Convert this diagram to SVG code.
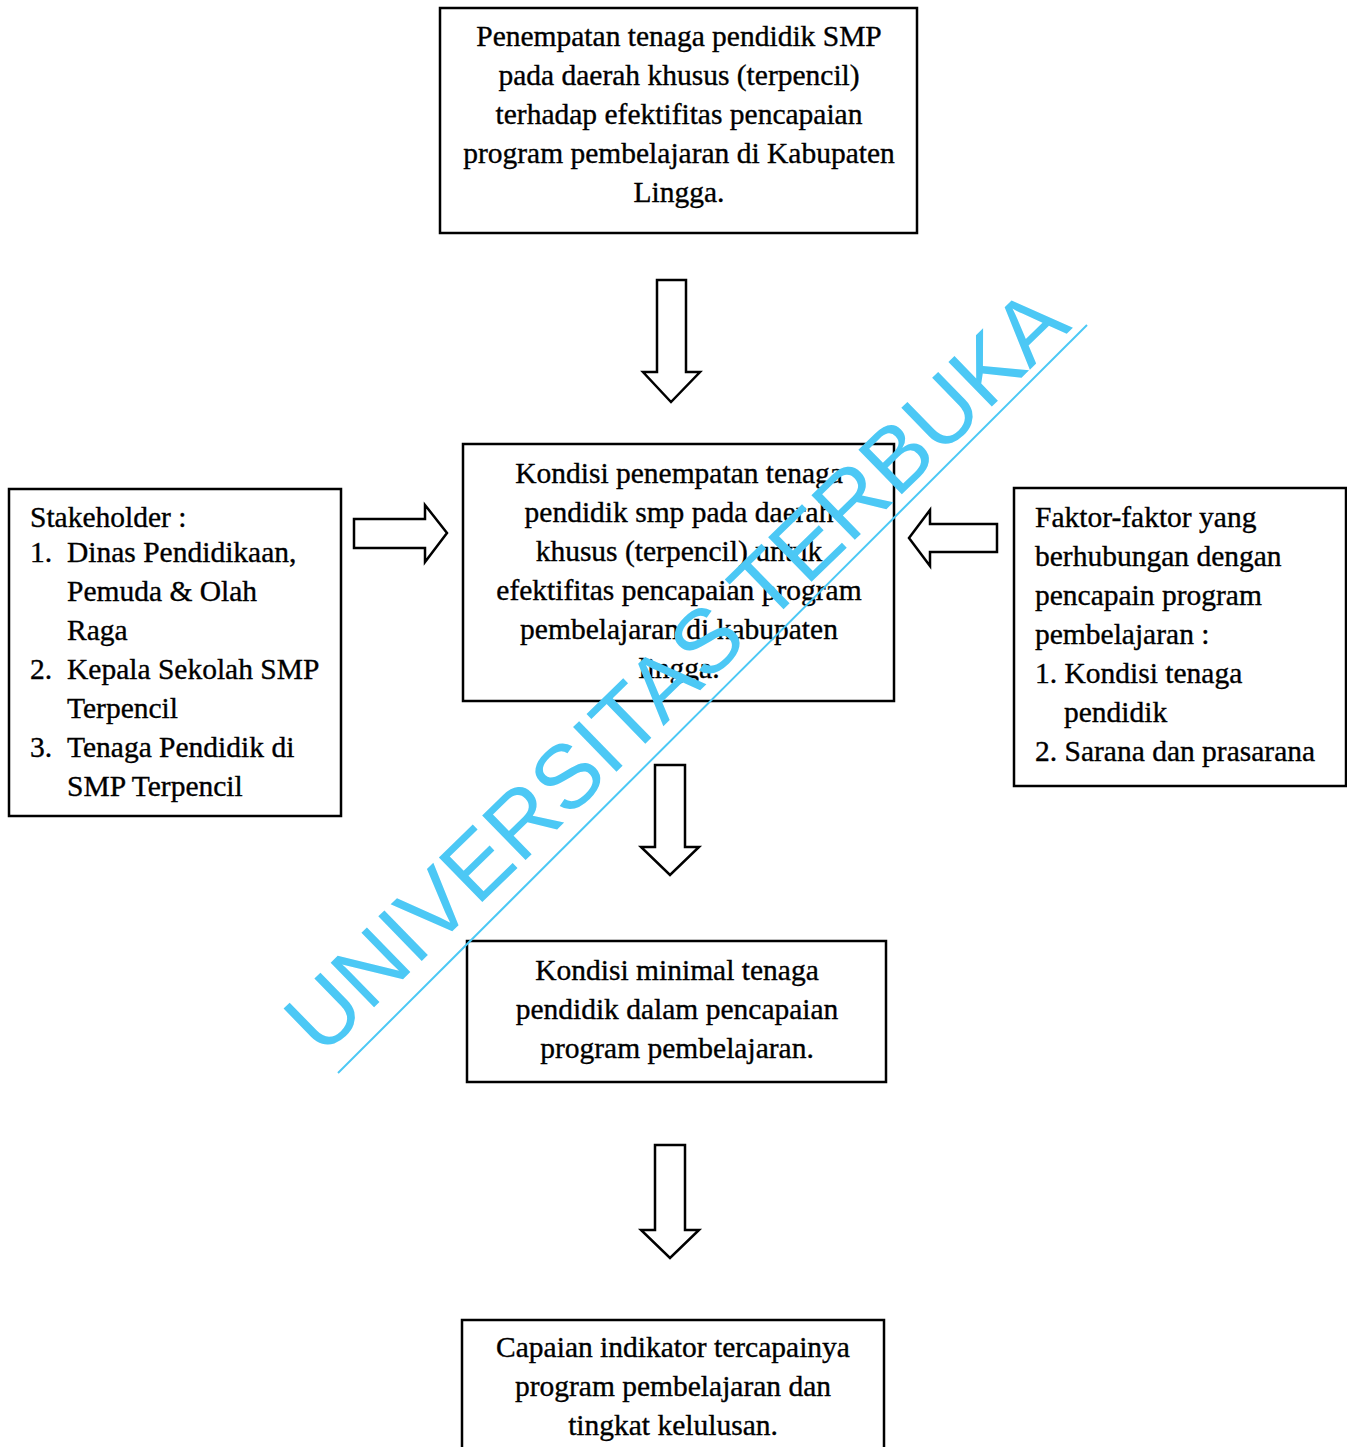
<svg xmlns="http://www.w3.org/2000/svg" width="1347" height="1447" viewBox="0 0 1347 1447">
<style>
.box{fill:#fff;stroke:#000;stroke-width:2.5}
.arr{fill:#fff;stroke:#000;stroke-width:2.5;stroke-linejoin:miter}
.t{font-family:"Liberation Serif","Times New Roman",serif;font-size:29.5px;fill:#000;stroke:#000;stroke-width:0.35}
.c{text-anchor:middle}
.wm{font-family:"Liberation Sans",Arial,sans-serif;font-size:90.5px;fill:#4cc8f5}
</style>
<rect width="1347" height="1447" fill="#fff"/>
<g id="connectors">
<path class="arr" d="M657,280 H686 V372 H700 L671,402 L643,372 H657 Z"/>
<path class="arr" d="M354,519 H425 V505 L447,533 L425,562 V548 H354 Z"/>
<path class="arr" d="M997,524 H930 V510 L909,538 L930,566 V552 H997 Z"/>
<path class="arr" d="M655,765 H685 V847 H699 L670,875 L641,847 H655 Z"/>
<path class="arr" d="M655,1145 H685 V1230 H699 L670,1258 L641,1230 H655 Z"/>
</g>
<g id="node-top">
<rect class="box" x="440" y="8" width="477" height="225"/>
<text class="t c"><tspan x="679" y="46">Penempatan tenaga pendidik SMP</tspan><tspan x="679" y="85">pada daerah khusus (terpencil)</tspan><tspan x="679" y="124">terhadap efektifitas pencapaian</tspan><tspan x="679" y="163">program pembelajaran di Kabupaten</tspan><tspan x="679" y="202">Lingga.</tspan></text>
</g>
<g id="node-center">
<rect class="box" x="463" y="444" width="431" height="257"/>
<text class="t c"><tspan x="679" y="483">Kondisi penempatan tenaga</tspan><tspan x="679" y="522">pendidik smp pada daerah</tspan><tspan x="679" y="561">khusus (terpencil) untuk</tspan><tspan x="679" y="600">efektifitas pencapaian program</tspan><tspan x="679" y="639">pembelajaran di kabupaten</tspan><tspan x="679" y="678">lingga.</tspan></text>
</g>
<g id="node-stakeholder">
<rect class="box" x="9" y="489" width="332" height="327"/>
<text class="t"><tspan x="30" y="527">Stakeholder :</tspan><tspan x="30" y="562">1.</tspan><tspan x="67" y="562">Dinas Pendidikaan,</tspan><tspan x="67" y="601">Pemuda &amp; Olah</tspan><tspan x="67" y="640">Raga</tspan><tspan x="30" y="679">2.</tspan><tspan x="67" y="679">Kepala Sekolah SMP</tspan><tspan x="67" y="718">Terpencil</tspan><tspan x="30" y="757">3.</tspan><tspan x="67" y="757">Tenaga Pendidik di</tspan><tspan x="67" y="796">SMP Terpencil</tspan></text>
</g>
<g id="node-faktor">
<rect class="box" x="1014" y="488" width="332" height="298"/>
<text class="t"><tspan x="1035" y="527">Faktor-faktor yang</tspan><tspan x="1035" y="566">berhubungan dengan</tspan><tspan x="1035" y="605">pencapain program</tspan><tspan x="1035" y="644">pembelajaran :</tspan><tspan x="1035" y="683">1. Kondisi tenaga</tspan><tspan x="1064" y="722">pendidik</tspan><tspan x="1035" y="761">2. Sarana dan prasarana</tspan></text>
</g>
<g id="node-minimal">
<rect class="box" x="467" y="941" width="419" height="141"/>
<text class="t c"><tspan x="677" y="980">Kondisi minimal tenaga</tspan><tspan x="677" y="1019">pendidik dalam pencapaian</tspan><tspan x="677" y="1058">program pembelajaran.</tspan></text>
</g>
<g id="node-capaian">
<rect class="box" x="462" y="1320" width="422" height="140"/>
<text class="t c"><tspan x="673" y="1357">Capaian indikator tercapainya</tspan><tspan x="673" y="1396">program pembelajaran dan</tspan><tspan x="673" y="1435">tingkat kelulusan.</tspan></text>
</g>
<g id="watermark">
<text class="wm" transform="translate(322,1058) rotate(-44.2)">UNIVERSITAS TERBUKA</text>
<line x1="338" y1="1073" x2="1087" y2="325" stroke="#4cc8f5" stroke-width="2"/>
</g>
</svg>
